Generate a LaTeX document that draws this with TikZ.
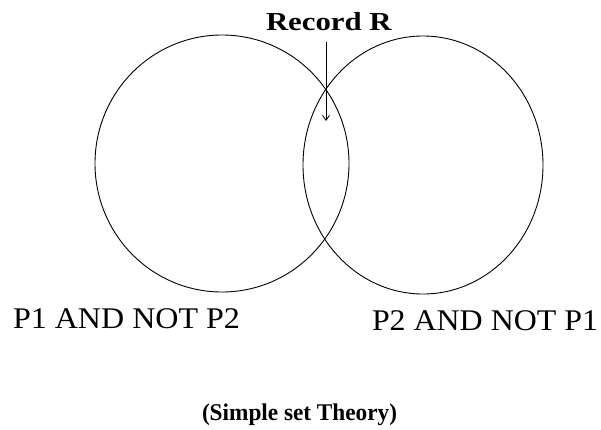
\documentclass[tikz,border=0pt]{standalone}
\usepackage{fontspec}
\setmainfont{Liberation Serif}
\usetikzlibrary{arrows.meta}
\tikzset{
  setline/.style={draw=black, line width=0.9pt},
  lbl/.style={inner sep=0pt, outer sep=0pt, anchor=base west, text=black},
  ptr/.style={draw=black, line width=0.9pt, -{Straight Barb[length=5pt,width=7pt,line width=0.8pt]}}
}
\begin{document}
\begin{tikzpicture}[x=1pt,y=-1pt]
\useasboundingbox (0,0) rectangle (601,429);
% sets
\draw[setline] (222,163.5) ellipse [x radius=127, y radius=128.5];
\draw[setline] (423,165) ellipse [x radius=120, y radius=129];
% labels
\node[lbl] (rec) at (266,30) {\fontsize{26}{30}\selectfont\resizebox{126pt}{\height}{\textbf{Record R}}};
\coordinate (ra) at (326,42);
\coordinate (rb) at (326,121);
\draw[ptr] (ra) -- (rb);
\node[lbl] (p1) at (13,328) {\fontsize{30}{34}\selectfont\resizebox{227pt}{\height}{P1 AND NOT P2}};
\node[lbl] (p2) at (372,330) {\fontsize{30}{34}\selectfont\resizebox{226pt}{\height}{P2 AND NOT P1}};
\node[lbl] (st) at (202,420) {\fontsize{24}{28}\selectfont\resizebox{195pt}{\height}{\textbf{(Simple set Theory)}}};
\end{tikzpicture}
\end{document}
